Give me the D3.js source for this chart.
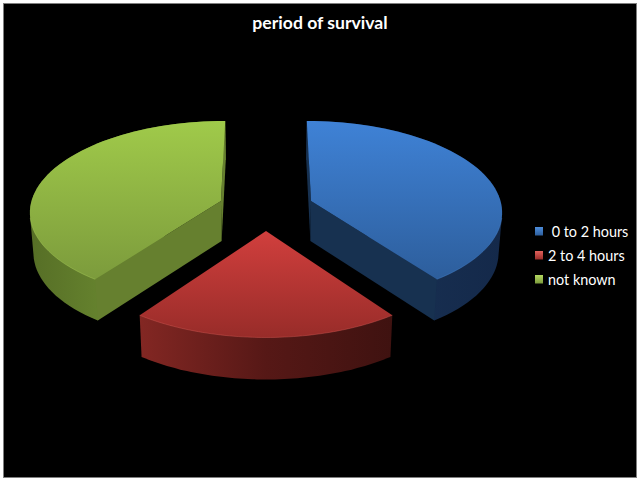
<!DOCTYPE html>
<html>
<head>
<meta charset="utf-8">
<script src="https://cdn.jsdelivr.net/npm/d3@7"></script>
<style>
html, body { margin: 0; padding: 0; background: #fff; overflow: hidden; }
svg { display: block; }
text { font-family: Lato, "Open Sans", sans-serif; fill: #fff; white-space: pre; }
</style>
</head>
<body>
<script>
// chart data
var title = "period of survival";
var categories = [" 0 to 2 hours", "2 to 4 hours", "not known"];
var values = [40, 20, 40];

// colours per slice: top face gradient, radial wall, rim gradient (left to right)
var topLight = ["#3f82d6", "#d13f3d", "#a0ca4a"];
var topDark = ["#2d5e9c", "#982c29", "#7c9b3c"];
var wallColor = ["#173150", "#5a1917", "#66802f"];
var rimColors = [["#1b3558", "#14294a"], ["#832723", "#561816", "#3f1210"], ["#566e26", "#6b8a31", "#607a2b"]];
var edgeColor = ["#4d8ddb", "#e0615c", "#b4d860"];

var width = 640, height = 481;

var svg = d3.select("body").append("svg")
    .attr("width", width)
    .attr("height", height);

svg.append("rect")
    .attr("x", 3.5).attr("y", 3.5)
    .attr("width", 633).attr("height", 474)
    .attr("fill", "#000")
    .attr("stroke", "#7f7f7f");

// perspective set-up for the tilted pie
var cx = 266, cy = 208,
    radiusX = 191, radiusY = 90,
    persp = 0.105, explode = 0.25,
    depth = 40;

function project(u, v) {
    var s = 1 / (1 - persp * v);
    return [cx + radiusX * u * s, cy + radiusY * v * s];
}

function projectBottom(u, v) {
    var p = project(u, v);
    return [cx + (p[0] - cx) * 0.985, p[1] + depth * (1 + 0.04 * v)];
}

var pie = d3.pie().sort(null);
var line = d3.line();
var slices = pie(values);
var defs = svg.append("defs");

function gradient(id, horizontal, a, b, colors) {
    var g = defs.append("linearGradient")
        .attr("id", id)
        .attr("gradientUnits", "userSpaceOnUse")
        .attr("x1", horizontal ? a : 0).attr("x2", horizontal ? b : 0)
        .attr("y1", horizontal ? 0 : a).attr("y2", horizontal ? 0 : b);
    colors.forEach(function (c, i) {
        g.append("stop").attr("offset", i / (colors.length - 1)).attr("stop-color", c);
    });
}

var g = svg.append("g");

slices.forEach(function (d, i) {
    var mid = (d.startAngle + d.endAngle) / 2;
    var ou = explode * Math.sin(mid), ov = -explode * Math.cos(mid);

    // points of the outer arc, in pie plane coordinates
    var arcPts = d3.range(0, 61).map(function (k) {
        var t = d.startAngle + (d.endAngle - d.startAngle) * k / 60;
        return [ou + Math.sin(t), ov - Math.cos(t)];
    });
    var centre = [ou, ov];
    var top = arcPts.map(function (p) { return project(p[0], p[1]); });
    var bottom = arcPts.map(function (p) { return projectBottom(p[0], p[1]); });
    var xs = top.map(function (p) { return p[0]; });
    var ys = top.concat([project(ou, ov)]).map(function (p) { return p[1]; });

    gradient("rim" + i, true, d3.min(xs), d3.max(xs), rimColors[i]);
    gradient("top" + i, false, d3.min(ys), d3.max(ys), [topLight[i], topDark[i]]);

    // outer rim, hull of both arcs so the silhouette stays smooth
    g.append("path")
        .attr("d", line(d3.polygonHull(top.concat(bottom))) + "Z")
        .attr("fill", "url(#rim" + i + ")");

    // the radial walls, only those that face the viewer
    [0, 60].forEach(function (k) {
        var p = arcPts[k];
        var wall = [project(centre[0], centre[1]), project(p[0], p[1]),
                    projectBottom(p[0], p[1]), projectBottom(centre[0], centre[1])];
        var area = d3.polygonArea(wall);
        if (k === 60 ? area < 0 : area > 0) {
            g.append("path")
                .attr("d", line(wall) + "Z")
                .attr("fill", wallColor[i]);
        }
    });

    // top face
    g.append("path")
        .attr("d", line([project(centre[0], centre[1])].concat(top)) + "Z")
        .attr("fill", "url(#top" + i + ")");

    // small bevel highlight on the front of the top face
    var front = top.filter(function (p, k) { return arcPts[k][1] > 0.1; });
    g.append("path")
        .attr("d", line(front))
        .attr("fill", "none")
        .attr("stroke", edgeColor[i])
        .attr("stroke-opacity", 0.45)
        .attr("stroke-width", 0.8);
});

svg.append("text")
    .attr("x", 320).attr("y", 29)
    .attr("text-anchor", "middle")
    .attr("font-size", 17.6)
    .attr("font-weight", "bold")
    .text(title);

// legend
var legendY = d3.scalePoint().domain(categories).range([231, 279]);

var legend = svg.append("g").selectAll("g")
    .data(categories)
    .enter().append("g")
    .attr("transform", function (d) { return "translate(0," + legendY(d) + ")"; });

legend.each(function (d, i) {
    var lg = defs.append("linearGradient")
        .attr("id", "swatch" + i)
        .attr("x1", 0).attr("x2", 0).attr("y1", 0).attr("y2", 1);
    lg.append("stop").attr("offset", 0).attr("stop-color", edgeColor[i]);
    lg.append("stop").attr("offset", 1).attr("stop-color", topDark[i]);
});

legend.append("rect")
    .attr("x", 535).attr("y", -4)
    .attr("width", 8).attr("height", 8.5)
    .attr("fill", function (d, i) { return "url(#swatch" + i + ")"; });

legend.append("text")
    .attr("x", 548).attr("y", 5.5)
    .attr("font-size", 14.4)
    .text(function (d) { return d; });
</script>
</body>
</html>
